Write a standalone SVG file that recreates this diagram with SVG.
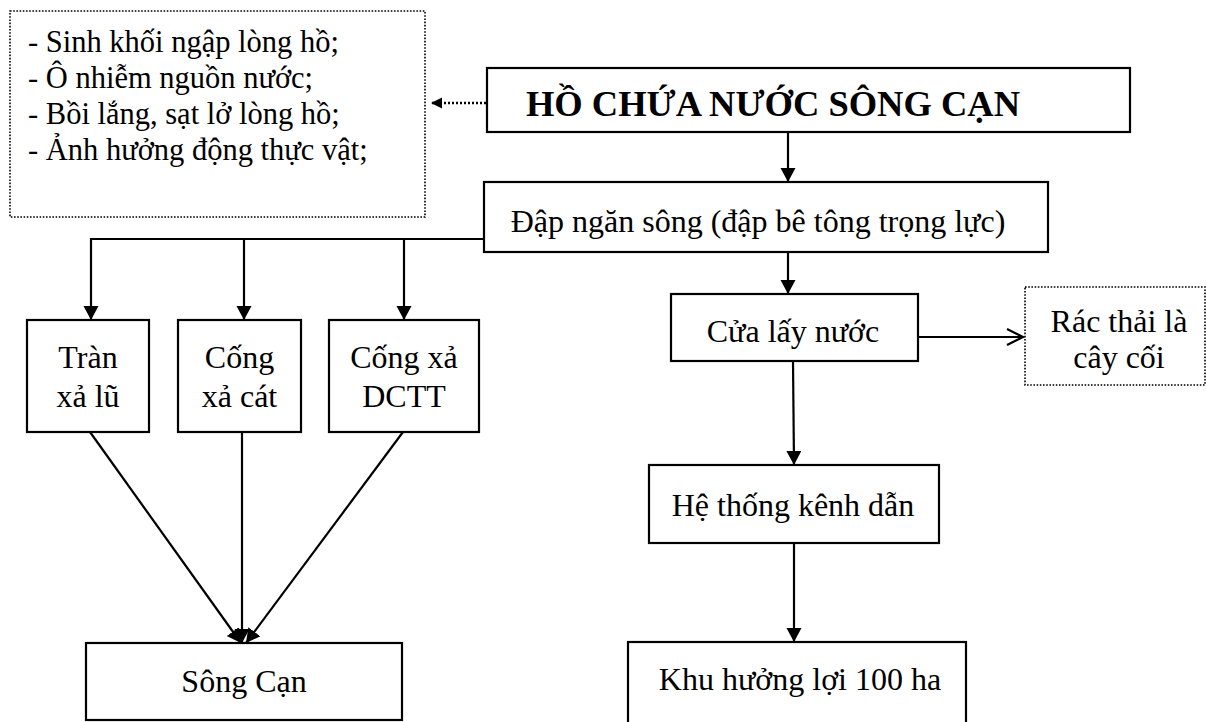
<svg xmlns="http://www.w3.org/2000/svg" width="1206" height="722" viewBox="0 0 1206 722">
  <style>
    .box { fill: #ffffff; stroke: #000000; stroke-width: 2.2; }
    .dotbox { fill: #ffffff; stroke: #000000; stroke-width: 1.6; stroke-dasharray: 1.6 1.6; }
    .t { font-family: "Liberation Serif", "Times New Roman", serif; font-size: 32px; fill: #000000; }
    .small { font-size: 30.5px; }
    .c { text-anchor: middle; }
    .title { font-size: 36.5px; font-weight: bold; }
    .edge { fill: none; stroke: #000000; stroke-width: 2.2; }
    .dotted { fill: none; stroke: #000000; stroke-width: 2.4; stroke-dasharray: 2 2; }
  </style>
  <defs>
    <marker id="arrow" markerUnits="userSpaceOnUse" markerWidth="16" markerHeight="16" refX="14" refY="7.5" orient="auto">
      <path d="M0,0 L14,7.5 L0,15 z" fill="#000000"/>
    </marker>
    <marker id="arrowSmall" markerUnits="userSpaceOnUse" markerWidth="12" markerHeight="12" refX="11" refY="5.5" orient="auto">
      <path d="M0,0 L11,5.5 L0,11 z" fill="#000000"/>
    </marker>
    <marker id="chevron" markerUnits="userSpaceOnUse" markerWidth="20" markerHeight="20" refX="17" refY="9" orient="auto">
      <path d="M1,1 L17,9 L1,17" fill="none" stroke="#000000" stroke-width="2.2"/>
    </marker>
  </defs>

  <!-- connectors -->
  <g id="connectors">
    <!-- reservoir impacts (dotted) -->
    <line class="dotted" x1="486" y1="103" x2="431" y2="103" marker-end="url(#arrowSmall)"/>
    <!-- reservoir to dam -->
    <line class="edge" x1="788" y1="132" x2="788" y2="182" marker-end="url(#arrow)"/>
    <!-- dam branches -->
    <polyline class="edge" points="484,239 91,239 91,320" marker-end="url(#arrow)"/>
    <line class="edge" x1="244" y1="239" x2="244" y2="320" marker-end="url(#arrow)"/>
    <line class="edge" x1="404" y1="239" x2="404" y2="320" marker-end="url(#arrow)"/>
    <!-- outlets to river -->
    <line class="edge" x1="90" y1="432" x2="241" y2="643" marker-end="url(#arrow)"/>
    <line class="edge" x1="242" y1="432" x2="242" y2="643" marker-end="url(#arrow)"/>
    <line class="edge" x1="403" y1="432" x2="246" y2="643" marker-end="url(#arrow)"/>
    <!-- dam to intake -->
    <line class="edge" x1="788" y1="252" x2="788" y2="294" marker-end="url(#arrow)"/>
    <!-- intake to debris -->
    <line class="edge" x1="918" y1="337" x2="1023" y2="337" marker-end="url(#chevron)"/>
    <!-- intake to canals -->
    <line class="edge" x1="793" y1="361" x2="794" y2="465" marker-end="url(#arrow)"/>
    <!-- canals to irrigated area -->
    <line class="edge" x1="794" y1="543" x2="794" y2="642" marker-end="url(#arrow)"/>
  </g>

  <g id="impacts">
    <rect class="dotbox" x="10" y="11" width="415" height="206"/>
    <text class="t small" x="28" y="52">- Sinh khối ngập lòng hồ;</text>
    <text class="t small" x="28" y="88">- Ô nhiễm nguồn nước;</text>
    <text class="t small" x="28" y="124">- Bồi lắng, sạt lở lòng hồ;</text>
    <text class="t small" x="28" y="160">- Ảnh hưởng động thực vật;</text>
  </g>

  <g id="reservoir">
    <rect class="box" x="487" y="68" width="643" height="64"/>
    <text class="t title c" x="773" y="116">HỒ CHỨA NƯỚC SÔNG CẠN</text>
  </g>

  <g id="dam">
    <rect class="box" x="484" y="182" width="564" height="70"/>
    <text class="t c" x="758" y="232">Đập ngăn sông (đập bê tông trọng lực)</text>
  </g>

  <g id="spillway">
    <rect class="box" x="27" y="320" width="122" height="112"/>
    <text class="t c" x="88" y="368">Tràn</text>
    <text class="t c" x="88" y="407">xả lũ</text>
  </g>

  <g id="sand-sluice">
    <rect class="box" x="178" y="320" width="123" height="112"/>
    <text class="t c" x="239.5" y="368">Cống</text>
    <text class="t c" x="239.5" y="407">xả cát</text>
  </g>

  <g id="ecological-sluice">
    <rect class="box" x="329" y="320" width="150" height="112"/>
    <text class="t c" x="404" y="368">Cống xả</text>
    <text class="t c" x="404" y="407">DCTT</text>
  </g>

  <g id="river">
    <rect class="box" x="86" y="643" width="316" height="77"/>
    <text class="t c" x="244" y="692">Sông Cạn</text>
  </g>

  <g id="intake">
    <rect class="box" x="671" y="294" width="247" height="67"/>
    <text class="t c" x="793" y="342">Cửa lấy nước</text>
  </g>

  <g id="debris">
    <rect class="dotbox" x="1025" y="287" width="180" height="98"/>
    <text class="t c" x="1119" y="332">Rác thải là</text>
    <text class="t c" x="1119" y="368">cây cối</text>
  </g>

  <g id="canals">
    <rect class="box" x="649" y="465" width="290" height="78"/>
    <text class="t c" x="793" y="516">Hệ thống kênh dẫn</text>
  </g>

  <g id="irrigated-area">
    <rect class="box" x="628" y="642" width="338" height="90"/>
    <text class="t c" x="800" y="690">Khu hưởng lợi 100 ha</text>
  </g>
</svg>
